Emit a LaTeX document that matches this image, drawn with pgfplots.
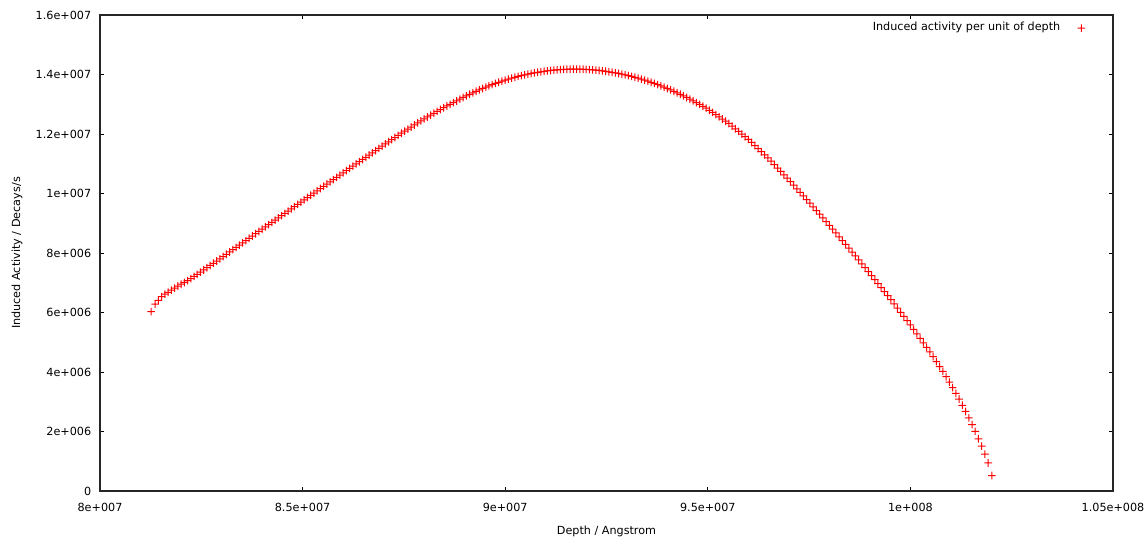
\documentclass[border=0pt]{standalone}
\usepackage{fontspec}
\setmainfont{DejaVu Sans}
\usepackage{pgfplots}
\usepackage{pgfplotstable}
\pgfplotsset{compat=1.18}

% "+" built from two filled bars
\pgfdeclareplotmark{fplus}{%
  \pgfsetfillcolor{red}%
  \pgfpathrectangle{\pgfqpoint{-\pgfplotmarksize}{-0.25pt}}{\pgfqpoint{2\pgfplotmarksize}{0.5pt}}%
  \pgfpathrectangle{\pgfqpoint{-0.25pt}{-\pgfplotmarksize}}{\pgfqpoint{0.5pt}{2\pgfplotmarksize}}%
  \pgfusepathqfill}

% depth in 1e6 Angstrom, activity in 1e6 decays/s
\pgfplotstableread{
x y
81.26 6.030
81.36 6.280
81.44 6.410
81.52 6.530
81.60 6.620
81.68 6.680
81.76 6.750
81.84 6.820
81.92 6.890
82.00 6.950
82.08 7.010
82.16 7.070
82.24 7.141
82.32 7.213
82.40 7.284
82.48 7.355
82.56 7.429
82.64 7.505
82.72 7.580
82.80 7.655
82.88 7.730
82.96 7.805
83.04 7.881
83.12 7.958
83.20 8.035
83.28 8.112
83.36 8.189
83.44 8.265
83.52 8.342
83.60 8.418
83.68 8.495
83.76 8.571
83.84 8.648
83.92 8.724
84.00 8.800
84.08 8.876
84.16 8.952
84.24 9.028
84.32 9.104
84.40 9.180
84.48 9.256
84.56 9.332
84.64 9.408
84.72 9.484
84.80 9.560
84.88 9.636
84.96 9.712
85.04 9.788
85.12 9.864
85.20 9.940
85.28 10.015
85.36 10.091
85.44 10.167
85.52 10.243
85.60 10.318
85.68 10.393
85.76 10.468
85.84 10.544
85.92 10.619
86.00 10.694
86.08 10.769
86.16 10.844
86.24 10.919
86.32 10.994
86.40 11.068
86.48 11.143
86.56 11.218
86.64 11.293
86.72 11.368
86.80 11.443
86.88 11.518
86.96 11.593
87.04 11.666
87.12 11.738
87.20 11.810
87.28 11.882
87.36 11.954
87.44 12.026
87.52 12.097
87.60 12.166
87.68 12.235
87.76 12.304
87.84 12.372
87.92 12.441
88.00 12.510
88.08 12.572
88.16 12.635
88.24 12.697
88.32 12.760
88.40 12.822
88.48 12.884
88.56 12.942
88.64 12.998
88.72 13.054
88.80 13.110
88.88 13.172
88.96 13.228
89.04 13.282
89.12 13.335
89.20 13.386
89.28 13.436
89.36 13.484
89.44 13.530
89.52 13.575
89.60 13.618
89.68 13.660
89.76 13.700
89.84 13.738
89.92 13.775
90.00 13.810
90.08 13.844
90.16 13.876
90.24 13.906
90.32 13.935
90.40 13.962
90.48 13.988
90.56 14.012
90.64 14.034
90.72 14.055
90.80 14.074
90.88 14.092
90.96 14.108
91.04 14.122
91.12 14.135
91.20 14.146
91.28 14.156
91.36 14.164
91.44 14.170
91.52 14.175
91.60 14.178
91.68 14.180
91.76 14.180
91.84 14.178
91.92 14.175
92.00 14.170
92.08 14.164
92.16 14.156
92.24 14.146
92.32 14.135
92.40 14.122
92.48 14.108
92.56 14.092
92.64 14.074
92.72 14.055
92.80 14.034
92.88 14.012
92.96 13.988
93.04 13.962
93.12 13.935
93.20 13.906
93.28 13.876
93.36 13.844
93.44 13.810
93.52 13.775
93.60 13.738
93.68 13.700
93.76 13.660
93.84 13.618
93.92 13.575
94.00 13.530
94.08 13.484
94.16 13.436
94.24 13.386
94.32 13.335
94.40 13.282
94.48 13.228
94.56 13.172
94.64 13.114
94.72 13.055
94.80 12.994
94.88 12.932
94.96 12.868
95.04 12.798
95.12 12.725
95.20 12.651
95.28 12.577
95.36 12.504
95.44 12.430
95.52 12.353
95.60 12.264
95.68 12.175
95.76 12.086
95.84 11.998
95.92 11.909
96.00 11.820
96.08 11.716
96.16 11.612
96.24 11.508
96.32 11.404
96.40 11.300
96.48 11.196
96.56 11.085
96.64 10.971
96.72 10.857
96.80 10.743
96.88 10.629
96.96 10.515
97.04 10.398
97.12 10.278
97.20 10.158
97.28 10.038
97.36 9.918
97.44 9.798
97.52 9.677
97.60 9.553
97.68 9.428
97.76 9.304
97.84 9.179
97.92 9.055
98.00 8.930
98.08 8.802
98.16 8.674
98.24 8.546
98.32 8.418
98.40 8.290
98.48 8.162
98.56 8.032
98.64 7.901
98.72 7.770
98.80 7.638
98.88 7.507
98.96 7.376
99.04 7.242
99.12 7.107
99.20 6.972
99.28 6.837
99.36 6.702
99.44 6.566
99.52 6.430
99.60 6.289
99.68 6.148
99.76 6.007
99.84 5.867
99.92 5.726
100.00 5.585
100.08 5.434
100.16 5.283
100.24 5.132
100.32 4.980
100.40 4.829
100.48 4.678
100.56 4.516
100.64 4.351
100.72 4.185
100.80 4.020
100.88 3.841
100.96 3.662
101.04 3.477
101.12 3.284
101.20 3.091
101.28 2.882
101.36 2.674
101.44 2.456
101.52 2.231
101.60 2.005
101.68 1.756
101.76 1.507
101.84 1.241
101.92 0.942
102.01 0.520
}\activity

\begin{document}
\begin{tikzpicture}[font=\fontsize{5.6pt}{6.7pt}\selectfont]
\begin{axis}[
    name=ax,
    scale only axis,
    width=506.5pt, height=238pt,
    xmin=80, xmax=105,
    ymin=0, ymax=16,
    xtick={80,85,90,95,100,105},
    xticklabels={8e+007,8.5e+007,9e+007,9.5e+007,1e+008,1.05e+008},
    ytick={0,2,4,6,8,10,12,14,16},
    yticklabels={0,2e+006,4e+006,6e+006,8e+006,1e+007,1.2e+007,1.4e+007,1.6e+007},
    tick align=inside,
    major tick length=2pt,
    every tick/.style={black, line width=0.5pt},
    axis line style={black!85, line width=0.6pt},
    xticklabel style={anchor=north, inner sep=0pt, yshift=-6pt},
    yticklabel style={anchor=east, inner sep=0pt, xshift=-4.2pt},
    xlabel={Depth / Angstrom},
    ylabel={Induced Activity / Decays/s},
    xlabel style={at={([yshift=-20pt]axis description cs:0.5,0)}, anchor=center, inner sep=0pt},
    ylabel style={at={([xshift=-41.5pt]axis description cs:0,0.5)}, anchor=center, inner sep=0pt},
    legend plot pos=right,
    legend image code/.code={\path (0pt,0pt); \draw[#1] plot coordinates {(10.5pt,0pt)};},
    legend style={draw=none, fill=none, at={(axis description cs:1,1)}, anchor=north east,
        xshift=-13.75pt, yshift=-3.5pt, inner sep=0pt, column sep=0pt,
        nodes={inner sep=0pt}},
]
\addplot[only marks, mark=fplus, mark size=1.9pt, color=red, fill=red, draw=none] table {\activity};
\addlegendentry{Induced activity per unit of depth}
\end{axis}
\pgfresetboundingbox
\path ([xshift=-50pt,yshift=-25pt]ax.south west) rectangle ([xshift=15.5pt,yshift=7.5pt]ax.north east);
\end{tikzpicture}
\end{document}
